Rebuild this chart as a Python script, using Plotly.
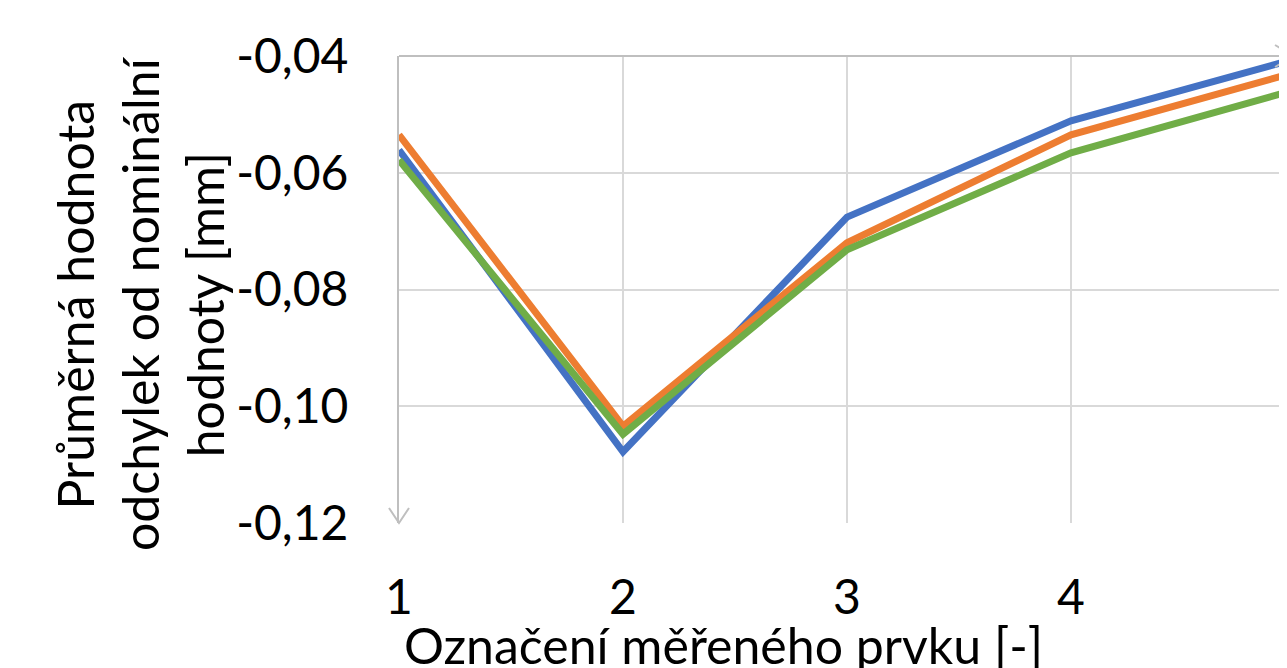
import plotly.graph_objects as go

# data
prvky = [1, 2, 3, 4, 5]
rada_modra = [-0.0561, -0.1078, -0.0676, -0.0511, -0.0405]
rada_oranzova = [-0.0535, -0.1034, -0.0720, -0.0535, -0.0428]
rada_zelena = [-0.0578, -0.1048, -0.0732, -0.0566, -0.0458]

y_ticks = [-0.12, -0.10, -0.08, -0.06, -0.04]
y_labels = ["-0,12", "-0,10", "-0,08", "-0,06", "-0,04"]
x_labels = ["1", "2", "3", "4", "5"]

FONT = "Lato"
fs = 48
fs_title = 50

fig = go.Figure()
for vals, col in [(rada_modra, "#4472C4"), (rada_oranzova, "#ED7D31"), (rada_zelena, "#70AD47")]:
    fig.add_trace(go.Scatter(x=prvky, y=vals, mode="lines",
                             line=dict(color=col, width=7), showlegend=False))

# the page body adds an 8px offset, so the figure is 8px smaller
fig.update_layout(
    width=1279, height=660,
    margin=dict(l=391, r=0, t=48, b=145),
    paper_bgcolor="white", plot_bgcolor="white",
    font=dict(family=FONT, size=fs, color="black"),
    xaxis=dict(range=[1, 1 + 888 / 224], tickvals=prvky[:4], ticktext=x_labels[:4],
               showgrid=True, gridcolor="#d9d9d9", gridwidth=2, automargin=False,
               zeroline=False, showline=False, ticks="", ticklabelstandoff=42),
    yaxis=dict(range=[-0.12, -0.04], tickvals=y_ticks, ticktext=y_labels,
               showgrid=True, gridcolor="#d9d9d9", gridwidth=2, automargin=False,
               zeroline=False, showline=True, linecolor="#bfbfbf", linewidth=2,
               ticks="", ticklabelstandoff=39),
)

# x axis line crosses at the top, with an arrow to the right
fig.add_shape(type="line", xref="paper", yref="paper", x0=0, x1=1.0079, y0=1, y1=1,
              line=dict(color="#bfbfbf", width=2))
fig.add_shape(type="path", xref="paper", yref="paper", xsizemode="pixel", ysizemode="pixel",
              xanchor=1.0079, yanchor=1, path="M -19,11 L 0,0 L -19,-11",
              line=dict(color="#bfbfbf", width=2))
# arrow at the bottom of the y axis
fig.add_shape(type="path", xref="paper", yref="paper", xsizemode="pixel", ysizemode="pixel",
              xanchor=0, yanchor=0, path="M -10,15 L 0,0 L 10,15",
              line=dict(color="#bfbfbf", width=2))

# last category label, partly outside the window
fig.add_annotation(xref="paper", yref="paper", x=1.0079, y=-0.154, text=x_labels[4],
                   showarrow=False, font=dict(size=fs), xanchor="center", yanchor="middle")

# axis titles
fig.add_annotation(xref="paper", yref="paper", x=0.365, y=-0.261,
                   text="Označení měřeného prvku [-]", showarrow=False,
                   font=dict(size=fs_title), xanchor="center", yanchor="middle")
fig.add_annotation(xref="paper", yref="paper", x=-0.2917, y=0.471,
                   text="Průměrná hodnota<br>odchylek od nominální<br>hodnoty [mm]",
                   showarrow=False, textangle=-90, align="center",
                   font=dict(size=fs_title), xanchor="center", yanchor="middle")

fig.write_html("out.html")
